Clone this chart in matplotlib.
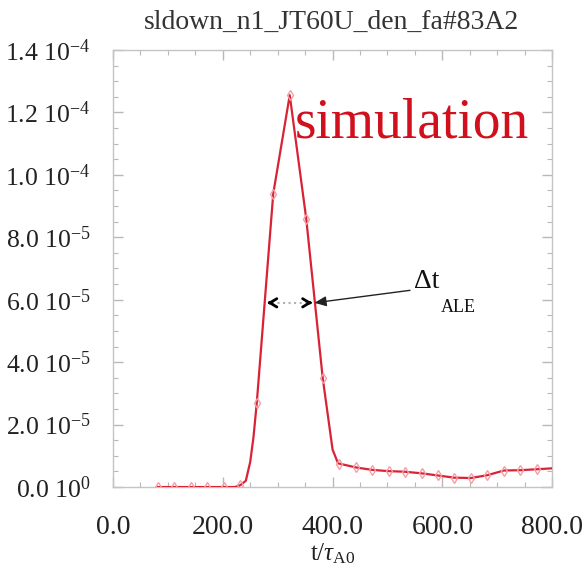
import matplotlib

matplotlib.use("Agg")
import matplotlib.pyplot as plt
from matplotlib.ticker import FixedLocator, MultipleLocator

plt.rcParams["font.family"] = ["Liberation Serif", "DejaVu Serif"]
plt.rcParams["mathtext.fontset"] = "custom"
plt.rcParams["mathtext.rm"] = "Liberation Serif"
plt.rcParams["mathtext.it"] = "Liberation Serif:italic"

# curve (time in Alfven units, amplitude)
t_line = [82, 112, 142, 172, 202, 222, 232, 242, 250, 256, 262, 292, 322,
          352, 382, 400, 410, 442, 472, 502, 532, 562, 592, 622, 652, 682,
          712, 742, 772, 800]
y_line = [0.0, 0.0, 0.0, 0.0, 0.0, 0.0, 0.6e-6, 2.0e-6, 8.0e-6, 1.6e-5,
          2.7e-5, 9.4e-5, 1.255e-4, 8.6e-5, 3.5e-5, 1.2e-5, 7.6e-6, 6.3e-6,
          5.5e-6, 5.1e-6, 4.9e-6, 4.4e-6, 3.7e-6, 3.0e-6, 2.9e-6, 3.8e-6,
          5.3e-6, 5.4e-6, 5.7e-6, 6.0e-6]

# sample points shown with diamond markers
t_mark = [82, 112, 142, 172, 202, 232, 262, 292, 322, 352, 382, 412, 442,
          472, 502, 532, 562, 592, 622, 652, 682, 712, 742, 772]
y_mark = [0.0, 0.0, 0.0, 0.0, 0.0, 0.6e-6, 2.7e-5, 9.4e-5, 1.255e-4,
          8.6e-5, 3.5e-5, 7.5e-6, 6.3e-6, 5.5e-6, 5.1e-6, 4.9e-6, 4.4e-6,
          3.7e-6, 3.0e-6, 2.9e-6, 3.8e-6, 5.3e-6, 5.4e-6, 5.7e-6]

x_ticks = [0, 200, 400, 600, 800]
x_labels = ["0.0", "200.0", "400.0", "600.0", "800.0"]
y_ticks = [0, 2e-5, 4e-5, 6e-5, 8e-5, 1.0e-4, 1.2e-4, 1.4e-4]
y_labels = [r"0.0 10$^{0}$", r"2.0 10$^{-5}$", r"4.0 10$^{-5}$",
            r"6.0 10$^{-5}$", r"8.0 10$^{-5}$", r"1.0 10$^{-4}$",
            r"1.2 10$^{-4}$", r"1.4 10$^{-4}$"]

fwhm_left, fwhm_right, fwhm_level = 281, 363, 5.9e-5

fig = plt.figure(figsize=(5.85, 5.67), dpi=100)
ax = fig.add_axes([0.193, 0.141, 0.751, 0.771])

ax.plot(t_line, y_line, color="#d92335", lw=1.6, zorder=3)
ax.plot(t_mark, y_mark, ls="none", marker="d", ms=5, mfc="none",
        mec="#f2a0a8", mew=1.0, zorder=4)

ax.set_xlim(0, 800)
ax.set_ylim(0, 1.4e-4)
ax.xaxis.set_major_locator(FixedLocator(x_ticks))
ax.set_xticklabels(x_labels, fontsize=20)
ax.xaxis.set_minor_locator(MultipleLocator(50))
ax.yaxis.set_major_locator(FixedLocator(y_ticks))
ax.set_yticklabels(y_labels, fontsize=18.5)
ax.yaxis.set_minor_locator(MultipleLocator(5e-6))

ax.tick_params(which="both", direction="in", top=True, right=True,
               color="#b8b8b8", labelcolor="#222222")
ax.tick_params(which="major", length=7, width=1)
ax.tick_params(which="minor", length=3.5, width=0.8)
ax.tick_params(axis="x", pad=20)
ax.tick_params(axis="y", pad=16)
for sp in ax.spines.values():
    sp.set_color("#c4c4c4")
    sp.set_linewidth(1.0)

ax.set_xlabel(r"t/$\tau_{\mathrm{A0}}$", fontsize=18, color="#222222",
              labelpad=1)

fig.text(0.567, 0.961, "sldown_n1_JT60U_den_fa#83A2", ha="center",
         va="center", fontsize=20, color="#333333")

ax.text(331, 1.118e-4, "simulation", color="#d0101c", fontsize=40,
        ha="left", va="baseline")

# FWHM double arrow
ax.plot([fwhm_left + 8, fwhm_right - 8], [fwhm_level, fwhm_level],
        color="#b0b0b0", lw=1.5, ls=":", zorder=5)
ax.annotate("", xy=(fwhm_left, fwhm_level), xytext=(fwhm_left + 10, fwhm_level),
            arrowprops=dict(arrowstyle="->,head_length=0.5,head_width=0.3",
                            color="black", lw=2), zorder=6)
ax.annotate("", xy=(fwhm_right, fwhm_level), xytext=(fwhm_right - 10, fwhm_level),
            arrowprops=dict(arrowstyle="->,head_length=0.5,head_width=0.3",
                            color="black", lw=2), zorder=6)
ax.annotate("", xy=(fwhm_right + 4, fwhm_level),
            xytext=(541, 6.3e-5),
            arrowprops=dict(arrowstyle="-|>,head_length=0.7,head_width=0.3",
                            color="#222222", lw=1.0, shrinkA=0, shrinkB=0),
            zorder=6)

ax.text(548, 6.38e-5, "Δt", fontsize=20, color="#111111", ha="left",
        va="baseline")
ax.text(597, 5.6e-5, "ALE", fontsize=13, color="#111111", ha="left",
        va="baseline")

fig.savefig("out.png", dpi=100)
